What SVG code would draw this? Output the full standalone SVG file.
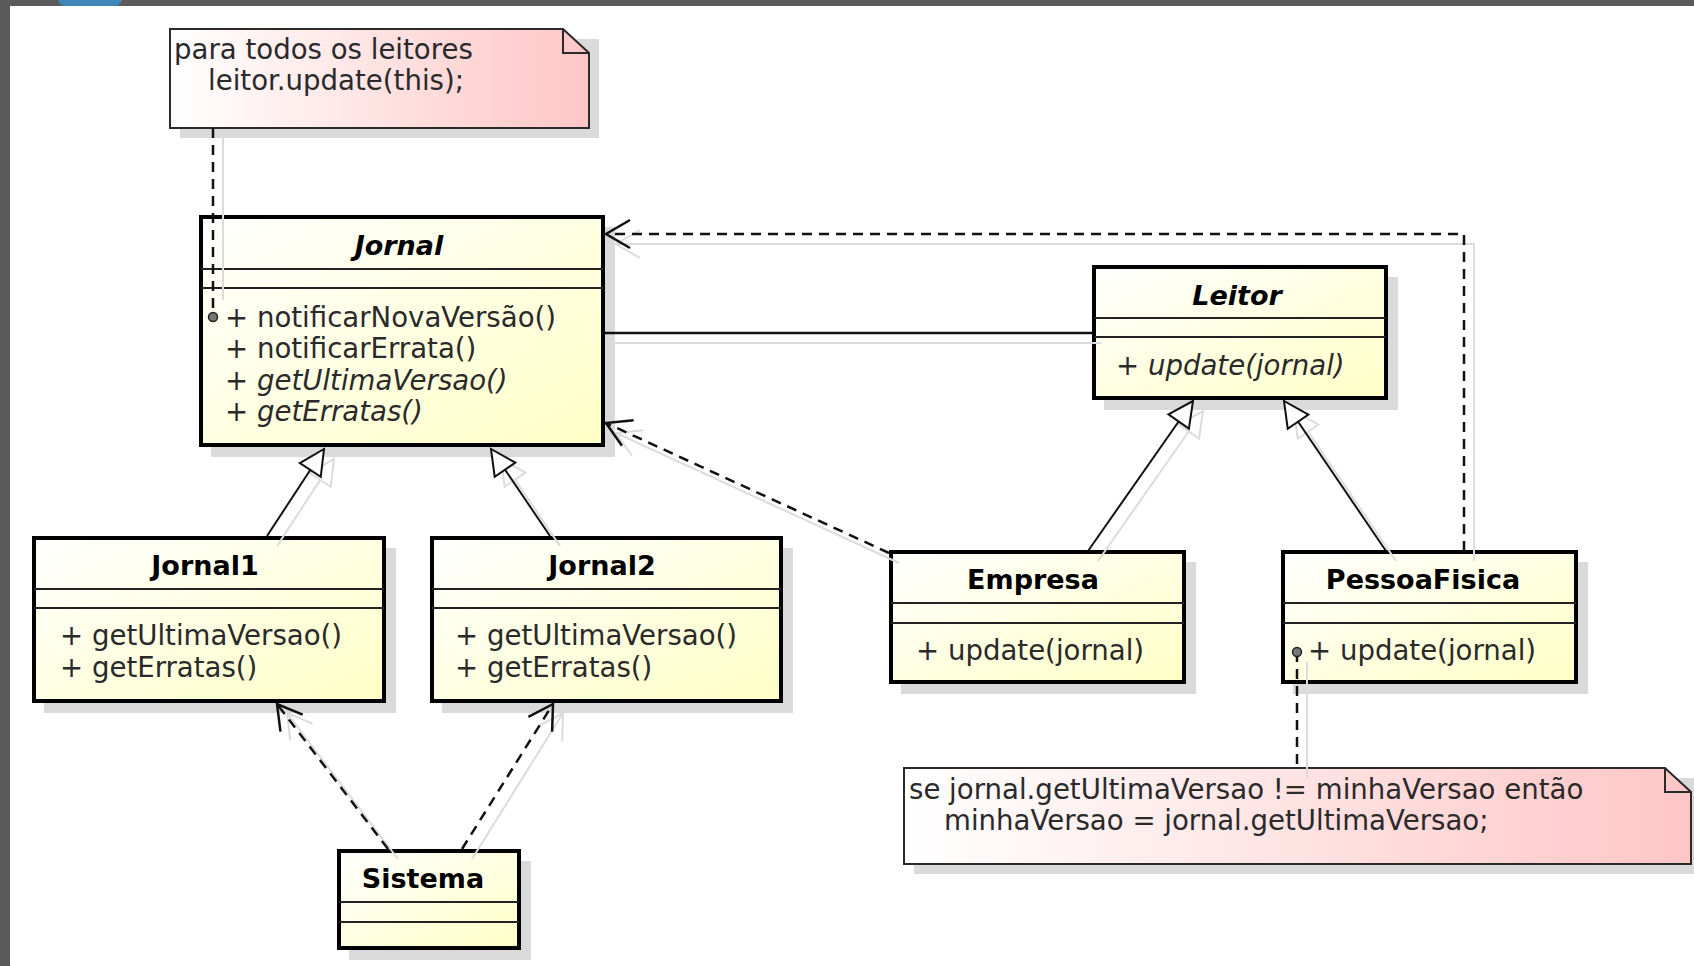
<svg xmlns="http://www.w3.org/2000/svg" width="1694" height="966" viewBox="0 0 1694 966">
  <style>
    .frame { fill: #5a5a5a; }
    .shadow { fill: #dadada; }
    .box { fill: url(#classFill); stroke: #000; stroke-width: 4; }
    .sep { stroke: #222; stroke-width: 2; }
    .note { fill: url(#noteFill); stroke: #2a2a2a; stroke-width: 2; }
    .fold { fill: none; stroke: #2a2a2a; stroke-width: 2; }
    .title { font-family: "DejaVu Sans", "Liberation Sans", sans-serif; font-size: 27px; font-weight: bold; fill: #000; text-anchor: middle; }
    .abstract { font-style: italic; }
    .op { font-family: "DejaVu Sans", "Liberation Sans", sans-serif; font-size: 27.6px; fill: #2a2a2a; }
    .it { font-style: italic; }
    .dot { fill: #777; stroke: #222; stroke-width: 1.5; }
    .dep { fill: none; stroke: #111; stroke-width: 2.5; stroke-dasharray: 10 7; }
    .arrowhead { marker-end: url(#open); }
    .gen { fill: none; stroke: #111; stroke-width: 2; marker-end: url(#tri); }
    .assoc { fill: none; stroke: #111; stroke-width: 2.5; }
    .sh { fill: none; stroke: #dcdcdc; stroke-width: 2; }
    .shOpen { marker-end: url(#openShadow); }
    .shTri { marker-end: url(#triShadow); }
  </style>
  <defs>
    <linearGradient id="classFill" x1="0" y1="0" x2="1" y2="1">
      <stop offset="0" stop-color="#ffffff"/>
      <stop offset="1" stop-color="#ffffc6"/>
    </linearGradient>
    <linearGradient id="noteFill" x1="0" y1="0" x2="1" y2="0">
      <stop offset="0" stop-color="#ffffff"/>
      <stop offset="1" stop-color="#ffc6c6"/>
    </linearGradient>
    <clipPath id="topBar">
      <rect x="0" y="0" width="1694" height="6"/>
    </clipPath>
    <!-- open arrowhead for dependencies -->
    <marker id="open" viewBox="-30 -18 34 36" refX="0" refY="0" markerWidth="34" markerHeight="36" markerUnits="userSpaceOnUse" orient="auto">
      <path d="M-24,-14 L0,0 L-24,14" fill="none" stroke="#111" stroke-width="2.5"/>
    </marker>
    <marker id="openShadow" viewBox="-30 -18 34 36" refX="0" refY="0" markerWidth="34" markerHeight="36" markerUnits="userSpaceOnUse" orient="auto">
      <path d="M-24,-14 L0,0 L-24,14" fill="none" stroke="#dcdcdc" stroke-width="2"/>
    </marker>
    <!-- hollow triangle for generalization -->
    <marker id="tri" viewBox="-30 -16 34 32" refX="0" refY="0" markerWidth="34" markerHeight="32" markerUnits="userSpaceOnUse" orient="auto">
      <path d="M0,0 L-25,-12.5 L-25,12.5 Z" fill="#fff" stroke="#111" stroke-width="2"/>
    </marker>
    <marker id="triShadow" viewBox="-4 -16 34 32" refX="0" refY="0" markerWidth="34" markerHeight="32" markerUnits="userSpaceOnUse" orient="auto">
      <path d="M25,0 L0,-12.5 L0,12.5 Z" fill="none" stroke="#dcdcdc" stroke-width="2"/>
    </marker>
  </defs>

  <!-- window chrome -->
  <rect width="1694" height="966" fill="#fff"/>
  <rect class="frame" x="0" y="0" width="1694" height="6"/>
  <rect class="frame" x="0" y="0" width="10" height="966"/>
  <circle cx="90" cy="-20" r="38" fill="#3f87b8" clip-path="url(#topBar)"/>

  <!-- notes -->
  <g id="note-notificar">
    <rect class="shadow" x="180" y="39" width="419" height="99"/>
    <path class="note" d="M170,29 L563,29 L589,53 L589,128 L170,128 Z"/>
    <path class="fold" d="M563,29 L563,53 L589,53"/>
    <text class="op" x="174" y="59">para todos os leitores</text>
    <text class="op" x="208" y="90">leitor.update(this);</text>
  </g>

  <g id="note-update">
    <rect class="shadow" x="914" y="778" width="787" height="96"/>
    <path class="note" d="M904,768 L1665,768 L1691,792 L1691,864 L904,864 Z"/>
    <path class="fold" d="M1665,768 L1665,792 L1691,792"/>
    <text class="op" x="909" y="799">se jornal.getUltimaVersao != minhaVersao então</text>
    <text class="op" x="944" y="830">minhaVersao = jornal.getUltimaVersao;</text>
  </g>

  <!-- classes -->
  <g id="Jornal">
    <rect class="shadow" x="211" y="227" width="404" height="230"/>
    <rect class="box" x="201" y="217" width="402" height="228"/>
    <line class="sep" x1="201" y1="269" x2="603" y2="269"/>
    <line class="sep" x1="201" y1="288" x2="603" y2="288"/>
    <text class="title abstract" x="399" y="255">Jornal</text>
    <text class="op" x="225" y="327">+ notificarNovaVersão()</text>
    <text class="op" x="225" y="358">+ notificarErrata()</text>
    <text class="op" x="225" y="390">+ <tspan class="it">getUltimaVersao()</tspan></text>
    <text class="op" x="225" y="421">+ <tspan class="it">getErratas()</tspan></text>
  </g>

  <g id="Leitor">
    <rect class="shadow" x="1104" y="277" width="294" height="133"/>
    <rect class="box" x="1094" y="267" width="292" height="131"/>
    <line class="sep" x1="1094" y1="318" x2="1386" y2="318"/>
    <line class="sep" x1="1094" y1="337" x2="1386" y2="337"/>
    <text class="title abstract" x="1237" y="305">Leitor</text>
    <text class="op" x="1116" y="375">+ <tspan class="it">update(jornal)</tspan></text>
  </g>

  <g id="Jornal1">
    <rect class="shadow" x="44" y="548" width="352" height="165"/>
    <rect class="box" x="34" y="538" width="350" height="163"/>
    <line class="sep" x1="34" y1="589" x2="384" y2="589"/>
    <line class="sep" x1="34" y1="608" x2="384" y2="608"/>
    <text class="title" x="205" y="575">Jornal1</text>
    <text class="op" x="60" y="645">+ getUltimaVersao()</text>
    <text class="op" x="60" y="677">+ getErratas()</text>
  </g>

  <g id="Jornal2">
    <rect class="shadow" x="442" y="548" width="351" height="165"/>
    <rect class="box" x="432" y="538" width="349" height="163"/>
    <line class="sep" x1="432" y1="589" x2="781" y2="589"/>
    <line class="sep" x1="432" y1="608" x2="781" y2="608"/>
    <text class="title" x="602" y="575">Jornal2</text>
    <text class="op" x="455" y="645">+ getUltimaVersao()</text>
    <text class="op" x="455" y="677">+ getErratas()</text>
  </g>

  <g id="Empresa">
    <rect class="shadow" x="901" y="562" width="295" height="132"/>
    <rect class="box" x="891" y="552" width="293" height="130"/>
    <line class="sep" x1="891" y1="603" x2="1184" y2="603"/>
    <line class="sep" x1="891" y1="623" x2="1184" y2="623"/>
    <text class="title" x="1033" y="589">Empresa</text>
    <text class="op" x="916" y="660">+ update(jornal)</text>
  </g>

  <g id="PessoaFisica">
    <rect class="shadow" x="1293" y="562" width="295" height="132"/>
    <rect class="box" x="1283" y="552" width="293" height="130"/>
    <line class="sep" x1="1283" y1="603" x2="1576" y2="603"/>
    <line class="sep" x1="1283" y1="623" x2="1576" y2="623"/>
    <text class="title" x="1423" y="589">PessoaFisica</text>
    <text class="op" x="1308" y="660">+ update(jornal)</text>
  </g>

  <g id="Sistema">
    <rect class="shadow" x="349" y="861" width="182" height="99"/>
    <rect class="box" x="339" y="851" width="180" height="97"/>
    <line class="sep" x1="339" y1="902" x2="519" y2="902"/>
    <line class="sep" x1="339" y1="922" x2="519" y2="922"/>
    <text class="title" x="423" y="888">Sistema</text>
  </g>

  <!-- connectors -->
  <g id="connectors">
    <!-- soft shadows under each line -->
    <g id="connector-shadows">
      <line class="sh" x1="223" y1="138" x2="223" y2="300"/>
      <line class="sh" x1="615" y1="343" x2="1101" y2="343"/>
      <polyline class="sh shOpen" points="1474,561 1474,244 616,244"/>
      <line class="sh shOpen" x1="899" y1="563" x2="616" y2="433"/>
      <line class="sh shTri" x1="277" y1="546" x2="320.3" y2="479.9"/>
      <line class="sh shTri" x1="560" y1="546" x2="515" y2="479.7"/>
      <line class="sh shTri" x1="1098" y1="561" x2="1188.7" y2="431.5"/>
      <line class="sh shTri" x1="1396" y1="561" x2="1308.1" y2="431.7"/>
      <line class="sh shOpen" x1="398" y1="859" x2="287" y2="713"/>
      <line class="sh shOpen" x1="472" y1="859" x2="563" y2="713"/>
      <line class="sh" x1="1307" y1="662" x2="1307" y2="778"/>
    </g>

    <!-- note anchors -->
    <line class="dep" x1="213" y1="128" x2="213" y2="317"/>
    <line class="dep" x1="1297" y1="652" x2="1297" y2="768"/>

    <!-- association Jornal - Leitor -->
    <line class="assoc" x1="605" y1="333" x2="1092" y2="333"/>

    <!-- dependencies -->
    <polyline class="dep arrowhead" points="1464,551 1464,234 606,234"/>
    <line class="dep arrowhead" x1="889" y1="553" x2="606" y2="423"/>
    <line class="dep arrowhead" x1="388" y1="849" x2="277" y2="704"/>
    <line class="dep arrowhead" x1="462" y1="849" x2="553" y2="704"/>

    <!-- generalizations -->
    <line class="gen" x1="267" y1="536" x2="324" y2="449"/>
    <line class="gen" x1="550" y1="536" x2="491" y2="449"/>
    <line class="gen" x1="1088" y1="551" x2="1193" y2="401"/>
    <line class="gen" x1="1386" y1="551" x2="1284" y2="401"/>

    <!-- operation anchors -->
    <circle class="dot" cx="213" cy="317" r="4.5"/>
    <circle class="dot" cx="1297" cy="652" r="4.5"/>
  </g>
</svg>
